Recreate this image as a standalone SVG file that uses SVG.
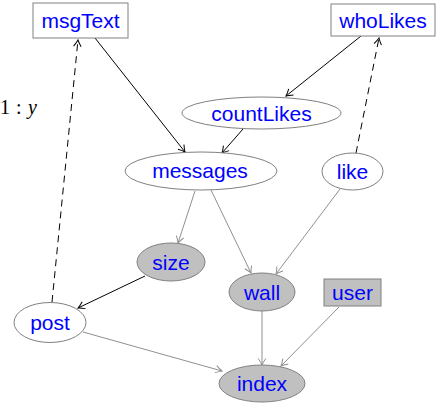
<svg xmlns="http://www.w3.org/2000/svg" width="438" height="412" viewBox="0 0 438 412">
<style>
.n{fill:#fff;stroke:#808080;stroke-width:1}
.g{fill:#c0c0c0;stroke:#808080;stroke-width:1}
.t{font-family:"Liberation Sans",Arial,sans-serif;font-size:21px;fill:#0000ff;text-anchor:middle}
.eb{fill:none;stroke:#000;stroke-width:1}
.eg{fill:none;stroke:#909090;stroke-width:1}
.d{stroke-dasharray:7,5}
.m{font-family:"Liberation Serif","DejaVu Serif",serif;font-size:20px;fill:#000}
</style>
<defs>
<marker id="ab" viewBox="-8 -5 10 10" refX="0" refY="0" markerWidth="10" markerHeight="10" markerUnits="userSpaceOnUse" orient="auto"><path d="M-6.5,-3.8 Q-2.5,-1 0,0 Q-2.5,1 -6.5,3.8" fill="none" stroke="#000" stroke-width="1"/></marker>
<marker id="ag" viewBox="-8 -5 10 10" refX="0" refY="0" markerWidth="10" markerHeight="10" markerUnits="userSpaceOnUse" orient="auto"><path d="M-6.5,-3.8 Q-2.5,-1 0,0 Q-2.5,1 -6.5,3.8" fill="none" stroke="#909090" stroke-width="1"/></marker>
</defs>
<g id="label">
<text class="m" x="0" y="114">1</text>
<text class="m" x="16" y="114">:</text>
<text class="m" x="28" y="114" font-style="italic">y</text>
</g>
<g id="connectors">
<line class="eb" x1="95" y1="38" x2="185" y2="152" marker-end="url(#ab)"/>
<line class="eb" x1="243" y1="129" x2="222" y2="153" marker-end="url(#ab)"/>
<line class="eb" x1="361" y1="36" x2="286" y2="96" marker-end="url(#ab)"/>
<line class="eb d" x1="52" y1="302" x2="78" y2="40" marker-end="url(#ab)"/>
<line class="eb d" x1="356" y1="153" x2="379" y2="38" marker-end="url(#ab)"/>
<line class="eb" x1="145" y1="276" x2="78" y2="308" marker-end="url(#ab)"/>
<line class="eg" x1="195" y1="191" x2="178" y2="243" marker-end="url(#ag)"/>
<line class="eg" x1="211" y1="190" x2="251" y2="273" marker-end="url(#ag)"/>
<line class="eg" x1="340" y1="189" x2="276" y2="274" marker-end="url(#ag)"/>
<line class="eg" x1="83" y1="332" x2="222" y2="371" marker-end="url(#ag)"/>
<line class="eg" x1="262" y1="311" x2="262" y2="365" marker-end="url(#ag)"/>
<line class="eg" x1="339" y1="307" x2="281" y2="366" marker-end="url(#ag)"/>
</g>
<g id="msgText"><rect class="n" x="33" y="3" width="95" height="35"/><text class="t" x="80.5" y="28">msgText</text></g>
<g id="whoLikes"><rect class="n" x="331" y="4" width="104" height="32"/><text class="t" x="383" y="27.5">whoLikes</text></g>
<g id="countLikes"><ellipse class="n" cx="261.5" cy="113" rx="79.5" ry="16"/><text class="t" x="261.5" y="120.5">countLikes</text></g>
<g id="messages"><ellipse class="n" cx="201" cy="171" rx="76" ry="19"/><text class="t" x="200" y="177.5">messages</text></g>
<g id="like"><ellipse class="n" cx="352.5" cy="171.5" rx="30.5" ry="18.5"/><text class="t" x="352.5" y="179">like</text></g>
<g id="size"><ellipse class="g" cx="171" cy="262" rx="34" ry="19"/><text class="t" x="171" y="269.5">size</text></g>
<g id="wall"><ellipse class="g" cx="262" cy="292" rx="33" ry="19"/><text class="t" x="262" y="299.5">wall</text></g>
<g id="user"><rect class="g" x="324" y="279" width="57" height="27"/><text class="t" x="352.5" y="299.5">user</text></g>
<g id="post"><ellipse class="n" cx="50" cy="322.5" rx="36" ry="20"/><text class="t" x="50" y="330">post</text></g>
<g id="index"><ellipse class="g" cx="262" cy="383.5" rx="43" ry="18.5"/><text class="t" x="262" y="391">index</text></g>
</svg>
